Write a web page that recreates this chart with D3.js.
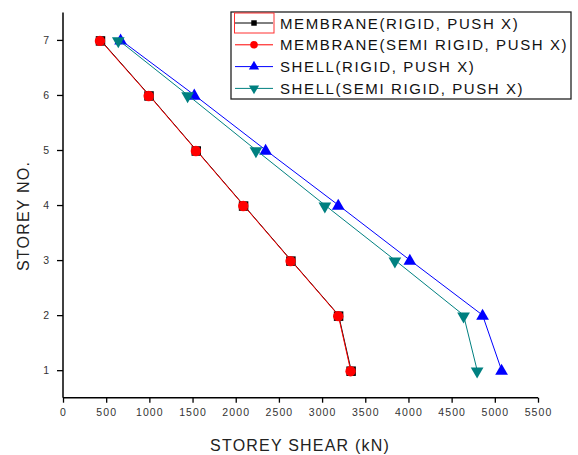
<!DOCTYPE html>
<html lang="en">
<head>
<meta charset="UTF-8">
<title>Storey shear</title>
<script src="https://cdn.jsdelivr.net/npm/d3@7"></script>
<style>
  body { margin: 0; background: #fff; }
  text { font-family: "Liberation Sans", Arial, sans-serif; }
</style>
</head>
<body>
<div id="fig"></div>
<script>
// storey numbers and shear values (kN)
const storeys = [7, 6, 5, 4, 3, 2, 1]
const membraneRigid = [434, 996, 1543, 2091, 2639, 3191, 3336]
const membraneSemi = [428, 992, 1539, 2087, 2635, 3187, 3330]
const shellRigid = [667, 1520, 2346, 3187, 4016, 4858, 5078]
const shellSemi = [640, 1443, 2234, 3032, 3843, 4638, 4795]

const xTicks = d3.range(0, 5501, 500)
const yTicks = [1, 2, 3, 4, 5, 6, 7]

const series = [
    {name: "MEMBRANE(RIGID, PUSH X)", values: membraneRigid, color: "#000000", symbol: d3.symbolSquare, size: 90, legSize: 30},
    {name: "MEMBRANE(SEMI RIGID, PUSH X)", values: membraneSemi, color: "#ff0000", symbol: d3.symbolCircle, size: 85, legSize: 45},
    {name: "SHELL(RIGID, PUSH X)", values: shellRigid, color: "#0000ff", symbol: d3.symbolTriangle, size: 70, legSize: 45},
    {name: "SHELL(SEMI RIGID, PUSH X)", values: shellSemi, color: "#008080", symbol: d3.symbolTriangle, size: 70, legSize: 45, flip: true}
]

const width = 578, height = 455

let svg = d3.select("#fig").append("svg")
    .attr("width", width)
    .attr("height", height)

const x = d3.scaleLinear().domain([0, 5500]).range([63, 538])
const y = d3.scaleLinear().domain([0.5, 7.5]).range([397.7, 12.4])

// axes: major + minor ticks
const xAxis = svg.append("g").attr("transform", `translate(0,${y(0.5)})`)
xAxis.call(d3.axisBottom(x).tickValues(d3.range(250, 5500, 500)).tickSize(3).tickFormat(""))
xAxis.call(d3.axisBottom(x).tickValues(xTicks).tickSize(5).tickPadding(6).tickFormat(d3.format("d")))
xAxis.selectAll("path").attr("stroke-width", 1.5).attr("d", `M${x(0)},0H${x(5500)}`)
xAxis.selectAll("line").attr("stroke-width", 1.3)
xAxis.selectAll("text").attr("font-size", 10.5).attr("fill", "#333").attr("letter-spacing", 1.1)
    .attr("font-family", "Liberation Sans, Arial, sans-serif")

const yAxis = svg.append("g").attr("transform", `translate(${x(0)},0)`)
yAxis.call(d3.axisLeft(y).tickValues([1.5, 2.5, 3.5, 4.5, 5.5, 6.5, 7.5]).tickSize(4).tickFormat(""))
yAxis.call(d3.axisLeft(y).tickValues(yTicks).tickSize(6).tickPadding(8).tickFormat(d3.format("d")))
yAxis.selectAll("path").attr("stroke-width", 1.5).attr("d", `M0,${y(0.5)}V${y(7.5)}`)
yAxis.selectAll("line").attr("stroke-width", 1.3)
yAxis.selectAll("text").attr("font-size", 10.5).attr("fill", "#333")
    .attr("font-family", "Liberation Sans, Arial, sans-serif")

// axis titles
svg.append("text")
    .attr("x", 300).attr("y", 451)
    .attr("text-anchor", "middle")
    .attr("font-size", 16).attr("letter-spacing", 1.2).attr("fill", "#222")
    .text("STOREY SHEAR (kN)")
svg.append("text")
    .attr("transform", "translate(29,216) rotate(-90)")
    .attr("text-anchor", "middle")
    .attr("font-size", 16).attr("letter-spacing", 1.2).attr("fill", "#222")
    .text("STOREY NO.")

// lines and markers
const line = d3.line().x(d => x(d.v)).y(d => y(d.s))

series.forEach(sr => {
    const pts = sr.values.map((v, i) => ({v: v, s: storeys[i]}))
    svg.append("path")
        .datum(pts)
        .attr("fill", "none")
        .attr("stroke", sr.color)
        .attr("stroke-width", 1)
        .attr("d", line)
    svg.selectAll(null)
        .data(pts)
        .enter()
        .append("path")
        .attr("d", d3.symbol().type(sr.symbol).size(sr.size))
        .attr("transform", d => `translate(${x(d.v)},${y(d.s) + 1}) rotate(${sr.flip ? 180 : 0})`)
        .attr("fill", sr.color)
})

// legend
const legend = svg.append("g")
legend.append("rect")
    .attr("x", 231).attr("y", 12).attr("width", 340).attr("height", 87)
    .attr("fill", "#fff").attr("stroke", "#222").attr("stroke-width", 1.3)

series.forEach((sr, i) => {
    const ly = 23 + i * 21.8
    legend.append("line")
        .attr("x1", 235).attr("x2", 273).attr("y1", ly).attr("y2", ly)
        .attr("stroke", sr.color).attr("stroke-width", 1)
    legend.append("path")
        .attr("d", d3.symbol().type(sr.symbol).size(sr.legSize))
        .attr("transform", `translate(254,${ly}) rotate(${sr.flip ? 180 : 0})`)
        .attr("fill", sr.color)
    legend.append("text")
        .attr("x", 280).attr("y", ly + 5.5)
        .attr("font-size", 15).attr("letter-spacing", 1.6).attr("fill", "#111")
        .text(sr.name)
})
// selection frame around first legend sample
legend.append("rect")
    .attr("x", 234.5).attr("y", 13).attr("width", 39.5).attr("height", 20)
    .attr("fill", "none").attr("stroke", "#ff3030").attr("stroke-width", 1)
</script>
</body>
</html>
